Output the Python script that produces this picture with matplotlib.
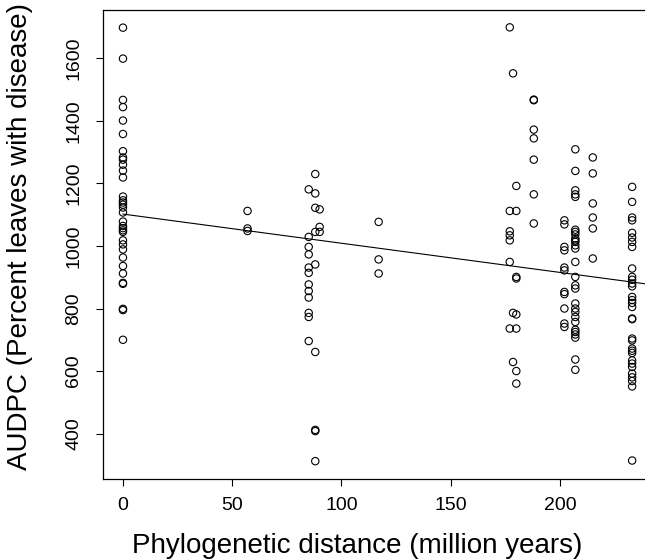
import matplotlib
matplotlib.use("Agg")
import matplotlib.pyplot as plt
import numpy as np

plt.rcParams["font.family"] = ["Liberation Sans", "DejaVu Sans"]

# AUDPC values grouped by phylogenetic distance (million years)
dist_000 = 0
audpc_000 = [1698, 1599, 1467, 1444, 1401, 1358, 1303, 1283, 1276, 1260, 1241,
             1219, 1158, 1146, 1139, 1132, 1123, 1107, 1078, 1064, 1057, 1050,
             1045, 1018, 1005, 989, 963, 936, 912, 882, 879, 799, 795, 700]
dist_057 = 57
audpc_057 = [1112, 1056, 1048]
dist_085 = 85
audpc_085 = [1181, 1029, 997, 973, 931, 914, 877, 856, 835, 786, 773, 696]
dist_088 = 88
audpc_088 = [1230, 1168, 1122, 1045, 941, 661, 412, 408, 312]
dist_090 = 90
audpc_090 = [1117, 1061, 1045]
dist_117 = 117
audpc_117 = [1077, 957, 912]
dist_177 = 177
audpc_177 = [1699, 1112, 1047, 1034, 1018, 949, 736]
dist_178 = 178.5
audpc_178 = [1552, 786, 629]
dist_180 = 180
audpc_180 = [1192, 1112, 901, 896, 781, 736, 600, 560]
dist_188 = 188
audpc_188 = [1468, 1466, 1372, 1344, 1276, 1165, 1072]
dist_202 = 202
audpc_202 = [1082, 1069, 997, 986, 931, 922, 853, 846, 800, 752, 741]
dist_207 = 207
audpc_207 = [1309, 1240, 1178, 1165, 1157, 1052, 1045, 1037, 1024, 1018, 1013,
             1002, 992, 949, 901, 874, 864, 816, 800, 789, 773, 757, 732, 725,
             717, 707, 637, 604]
dist_215 = 215
audpc_215 = [1283, 1232, 1136, 1091, 1056, 960]
dist_233 = 233
audpc_233 = [1189, 1141, 1091, 1082, 1042, 1027, 1013, 997, 928, 901, 892, 880,
             871, 837, 827, 818, 805, 768, 766, 704, 698, 672, 665, 658, 634,
             624, 613, 592, 580, 568, 551, 314]

# Fitted linear trend
fit_intercept = 1102
fit_slope = -0.933

x_ticks = [0, 50, 100, 150, 200]
y_ticks = [400, 600, 800, 1000, 1200, 1400, 1600]

groups = [
    (dist_000, audpc_000), (dist_057, audpc_057), (dist_085, audpc_085),
    (dist_088, audpc_088), (dist_090, audpc_090), (dist_117, audpc_117),
    (dist_177, audpc_177), (dist_178, audpc_178), (dist_180, audpc_180),
    (dist_188, audpc_188), (dist_202, audpc_202), (dist_207, audpc_207),
    (dist_215, audpc_215), (dist_233, audpc_233),
]
x = np.concatenate([np.full(len(v), d, dtype=float) for d, v in groups])
y = np.concatenate([np.asarray(v, dtype=float) for d, v in groups])

W, H = 645, 559
fig = plt.figure(figsize=(W / 100, H / 100), dpi=100)
left, right, top, bottom = 102.6, 652.5, 10.0, 478.5
ax = fig.add_axes([left / W, 1 - bottom / H, (right - left) / W, (bottom - top) / H])

# R-style 4% padding around the data range
xr = x.max() - x.min()
yr = y.max() - y.min()
ax.set_xlim(x.min() - 0.04 * xr, x.max() + 0.04 * xr)
ax.set_ylim(y.min() - 0.04 * yr, y.max() + 0.04 * yr)

ax.scatter(x, y, s=28, facecolors="none", edgecolors="black", linewidths=0.8, zorder=3)

xl = np.array([x.min(), ax.get_xlim()[1]])
ax.plot(xl, fit_intercept + fit_slope * xl, color="black", lw=0.8, zorder=2)

ax.set_xticks(x_ticks)
ax.set_yticks(y_ticks)
ax.set_xticklabels([str(t) for t in x_ticks], fontsize=14)
ax.set_yticklabels([str(t) for t in y_ticks], fontsize=14, rotation=90, va="center")
ax.tick_params(direction="out", length=5, width=0.8)
ax.tick_params(axis="x", pad=8.5)
ax.tick_params(axis="y", pad=9.5)
for s in ax.spines.values():
    s.set_linewidth(0.9)

# Axis titles placed in figure pixel coordinates
fig.text(357 / W, 1 - 553 / H, "Phylogenetic distance (million years)",
         fontsize=20, ha="center", va="baseline")
fig.text(20 / W, 1 - 237 / H, "AUDPC (Percent leaves with disease)",
         fontsize=20, ha="center", va="center", rotation=90)

fig.savefig("out.png", dpi=100)
